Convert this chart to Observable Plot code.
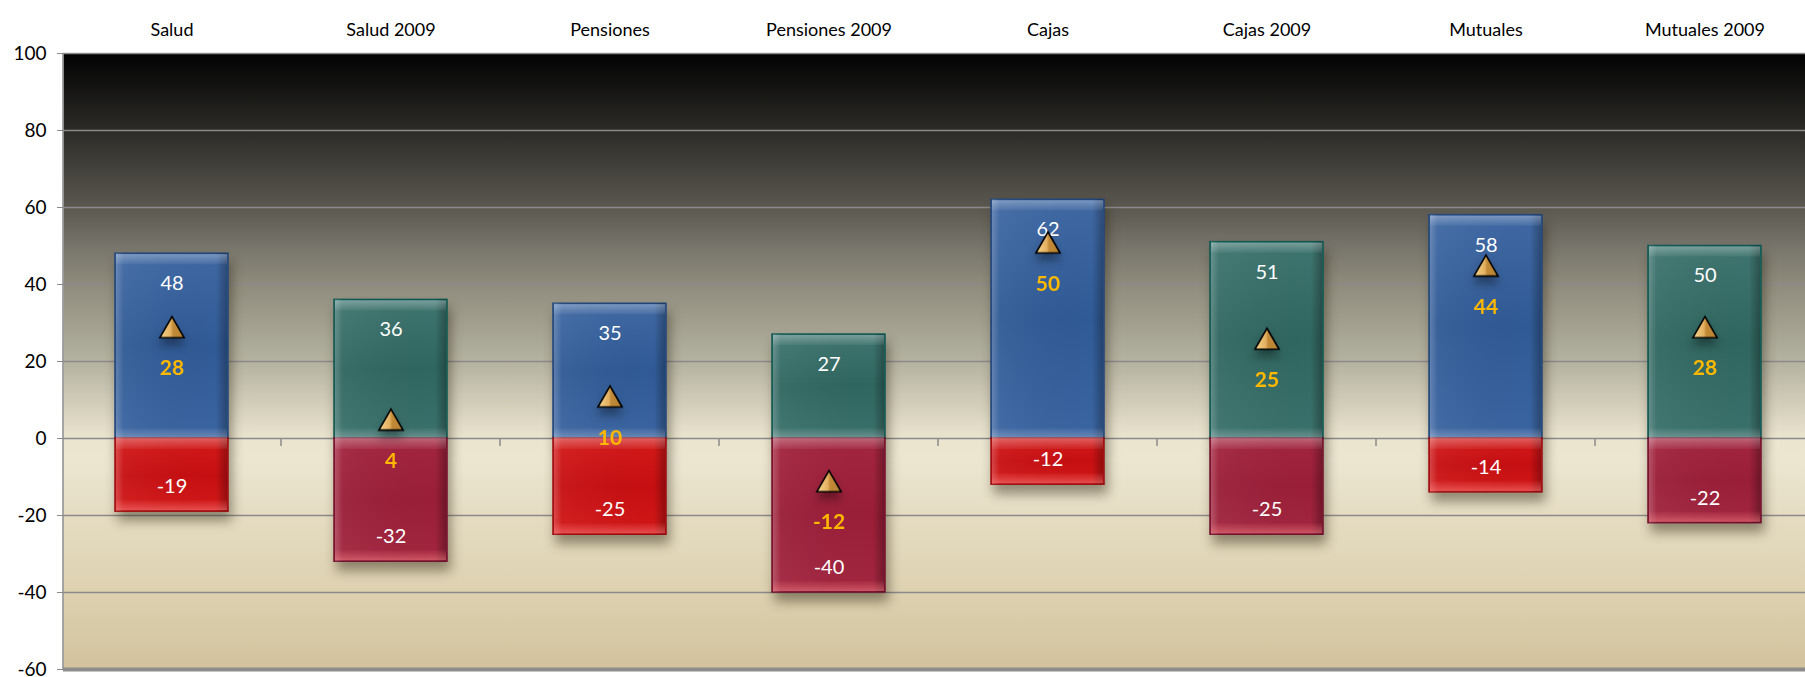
<!DOCTYPE html>
<html>
<head>
<meta charset="utf-8">
<script src="https://cdn.jsdelivr.net/npm/d3@7"></script>
<script src="https://cdn.jsdelivr.net/npm/@observablehq/plot@0.6"></script>
<style>
  html, body { margin: 0; padding: 0; background: white; overflow: hidden; }
  #chart { width: 1805px; height: 677px; }
</style>
</head>
<body>
<div id="chart"></div>
<script>
const categories = ["Salud", "Salud 2009", "Pensiones", "Pensiones 2009", "Cajas", "Cajas 2009", "Mutuales", "Mutuales 2009"];
const positive = [48, 36, 35, 27, 62, 51, 58, 50];
const negative = [-19, -32, -25, -40, -12, -25, -14, -22];
const net = [28, 4, 10, -12, 50, 25, 44, 28];
const yTicks = [-60, -40, -20, 0, 20, 40, 60, 80, 100];

const rows = categories.map((c, i) => ({
  cat: c, pos: positive[i], neg: negative[i], net: net[i], is2009: c.includes("2009")
}));
const cur = rows.filter(d => !d.is2009);
const old = rows.filter(d => d.is2009);

const FONT = "Lato, 'Open Sans', sans-serif";

const plot = Plot.plot({
  width: 1805,
  height: 677,
  marginTop: 53,
  marginBottom: 8,
  marginLeft: 63,
  marginRight: 0,
  style: { background: "white", fontFamily: FONT, fontSize: "19px", color: "black" },
  x: { domain: categories, paddingInner: 0.484, paddingOuter: 0.219, align: 0.54, axis: null },
  y: { domain: [-60, 100], axis: null },
  marks: [
    Plot.frame({ fill: "url(#bgGrad)", stroke: "none" }),
    Plot.ruleY(yTicks.filter(d => d > -60), { stroke: "#8a8a8a", strokeWidth: 1.5 }),
    Plot.ruleY([-60], { stroke: "#8c8c8c", strokeWidth: 4 }),
    Plot.axisY({ ticks: yTicks, tickSize: 6, tickPadding: 11, stroke: "#8a8a8a", fill: "black", fontSize: 19, tickFormat: d => String(d), label: null }),
    Plot.axisX({ anchor: "top", tickSize: 0, tickPadding: 18, fill: "black", fontSize: 18, label: null }),
    // main bars
    Plot.barY(cur, { x: "cat", y1: 0, y2: "pos", fill: "url(#blueGrad)", stroke: "#22467a", strokeWidth: 1.5, ariaDescription: "mainbars" }),
    Plot.barY(old, { x: "cat", y1: 0, y2: "pos", fill: "url(#tealGrad)", stroke: "#0e5852", strokeWidth: 1.5, ariaDescription: "mainbars" }),
    Plot.barY(cur, { x: "cat", y1: 0, y2: "neg", fill: "url(#redGrad)", stroke: "#9c0d10", strokeWidth: 1.5, ariaDescription: "mainbars" }),
    Plot.barY(old, { x: "cat", y1: 0, y2: "neg", fill: "url(#maroonGrad)", stroke: "#73102c", strokeWidth: 1.5, ariaDescription: "mainbars" }),
    // bevel overlays
    Plot.barY(rows, { x: "cat", y1: 0, y2: "pos", fill: "url(#sides)", insetLeft: 1, insetRight: 1 }),
    Plot.barY(rows, { x: "cat", y1: 0, y2: "neg", fill: "url(#sides)", insetLeft: 1, insetRight: 1 }),
    Plot.barY(rows, { x: "cat", y1: "pos", y2: "pos", insetBottom: -11, insetTop: 1, insetLeft: 1, insetRight: 1, fill: "url(#hiTop)" }),
    Plot.barY(rows, { x: "cat", y1: 0, y2: 0, insetTop: -10, insetLeft: 1, insetRight: 1, fill: "url(#hiBot)" }),
    Plot.barY(rows, { x: "cat", y1: 0, y2: 0, insetBottom: -11, insetLeft: 1, insetRight: 1, fill: "url(#hiTop)" }),
    Plot.barY(rows, { x: "cat", y1: "neg", y2: "neg", insetTop: -11, insetBottom: 1, insetLeft: 1, insetRight: 1, fill: "url(#hiBotStrong)" }),
    // value labels
    Plot.text(rows, { x: "cat", y: "pos", text: d => String(d.pos), dy: 30, fill: "white", fontSize: 20, fontFamily: FONT }),
    Plot.text(rows, { x: "cat", y: "neg", text: d => String(d.neg), dy: -25, fill: "white", fontSize: 20, fontFamily: FONT }),
    // net markers
    Plot.dot(rows, { x: "cat", y: "net", symbol: "triangle", r: 9, fill: "url(#gold)", stroke: "black", strokeWidth: 1.6, ariaDescription: "tri" }),
    Plot.text(rows, { x: "cat", y: "net", text: d => String(d.net), dy: 38, fill: "#ffb800", fontWeight: "bold", fontSize: 21, fontFamily: FONT })
  ]
});

const svg = d3.select(plot);
svg.insert("defs", ":first-child").html(`
  <linearGradient id="bgGrad" x1="0" y1="0" x2="0" y2="1">
    <stop offset="0" stop-color="#020202"/>
    <stop offset="0.125" stop-color="#2c2b27"/>
    <stop offset="0.25" stop-color="#5b5850"/>
    <stop offset="0.31" stop-color="#76736a"/>
    <stop offset="0.375" stop-color="#8f8c7d"/>
    <stop offset="0.5" stop-color="#b4b2a0"/>
    <stop offset="0.58" stop-color="#d7d2be"/>
    <stop offset="0.625" stop-color="#ebe5d0"/>
    <stop offset="0.66" stop-color="#ece6d1"/>
    <stop offset="0.75" stop-color="#e5dcc2"/>
    <stop offset="0.875" stop-color="#ddd1b0"/>
    <stop offset="1" stop-color="#d2c39d"/>
  </linearGradient>
  <linearGradient id="blueGrad" x1="0" y1="0" x2="0" y2="1">
    <stop offset="0" stop-color="#4069a4"/>
    <stop offset="0.5" stop-color="#305a95"/>
    <stop offset="1" stop-color="#3b65a1"/>
  </linearGradient>
  <linearGradient id="tealGrad" x1="0" y1="0" x2="0" y2="1">
    <stop offset="0" stop-color="#3f7570"/>
    <stop offset="0.5" stop-color="#306660"/>
    <stop offset="1" stop-color="#3b716c"/>
  </linearGradient>
  <linearGradient id="redGrad" x1="0" y1="0" x2="0" y2="1">
    <stop offset="0" stop-color="#d41a1a"/>
    <stop offset="0.5" stop-color="#c60f12"/>
    <stop offset="1" stop-color="#d21818"/>
  </linearGradient>
  <linearGradient id="maroonGrad" x1="0" y1="0" x2="0" y2="1">
    <stop offset="0" stop-color="#a3253f"/>
    <stop offset="0.5" stop-color="#9a1e38"/>
    <stop offset="1" stop-color="#a22640"/>
  </linearGradient>
  <linearGradient id="sides" x1="0" y1="0" x2="1" y2="0">
    <stop offset="0" stop-color="#ffffff" stop-opacity="0.22"/>
    <stop offset="0.07" stop-color="#ffffff" stop-opacity="0.04"/>
    <stop offset="0.9" stop-color="#000000" stop-opacity="0"/>
    <stop offset="1" stop-color="#000000" stop-opacity="0.28"/>
  </linearGradient>
  <linearGradient id="hiTop" x1="0" y1="0" x2="0" y2="1">
    <stop offset="0" stop-color="#ffffff" stop-opacity="0.3"/>
    <stop offset="1" stop-color="#ffffff" stop-opacity="0.05"/>
  </linearGradient>
  <linearGradient id="hiBot" x1="0" y1="0" x2="0" y2="1">
    <stop offset="0" stop-color="#ffffff" stop-opacity="0.02"/>
    <stop offset="1" stop-color="#ffffff" stop-opacity="0.25"/>
  </linearGradient>
  <linearGradient id="hiBotStrong" x1="0" y1="0" x2="0" y2="1">
    <stop offset="0" stop-color="#ff8080" stop-opacity="0.05"/>
    <stop offset="1" stop-color="#ff9090" stop-opacity="0.45"/>
  </linearGradient>
  <linearGradient id="gold" x1="0" y1="0" x2="1" y2="0">
    <stop offset="0" stop-color="#f8d890"/>
    <stop offset="0.45" stop-color="#e3b060"/>
    <stop offset="0.55" stop-color="#c08a38"/>
    <stop offset="1" stop-color="#b88232"/>
  </linearGradient>
`);

svg.selectAll("g[aria-description=mainbars]")
  .style("filter", "drop-shadow(3px 9px 6px rgba(40,30,10,0.45))");
svg.selectAll("g[aria-description=tri]")
  .style("filter", "drop-shadow(0px 7px 4px rgba(0,0,0,0.35))");

// axis line on the left and band-boundary ticks along zero
const xs = plot.scale("x");
const ys = plot.scale("y");
const step = xs.apply(categories[1]) - xs.apply(categories[0]);
const bw = xs.bandwidth;
const gap = step - bw;
const y0 = ys.apply(0);
const lines = svg.append("g").attr("stroke", "#8a8a8a").attr("stroke-width", 1.5);
lines.append("line")
  .attr("x1", xs.range[0]).attr("x2", xs.range[0])
  .attr("y1", ys.apply(100)).attr("y2", ys.apply(-60));
categories.slice(1).forEach(c => {
  const bx = xs.apply(c) - gap / 2;
  lines.append("line").attr("x1", bx).attr("x2", bx).attr("y1", y0).attr("y2", y0 + 8);
});

document.getElementById("chart").appendChild(plot);
</script>
</body>
</html>
